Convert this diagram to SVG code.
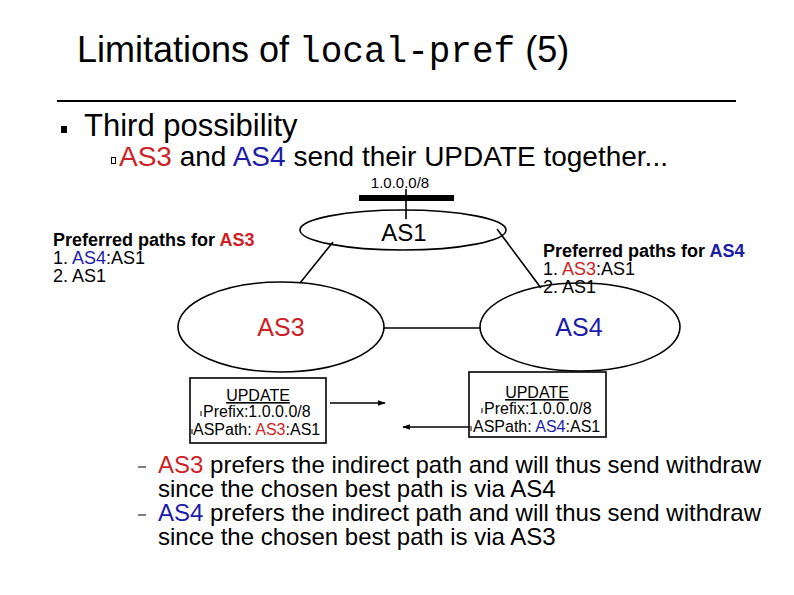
<svg xmlns="http://www.w3.org/2000/svg" width="794" height="595" viewBox="0 0 794 595">
<defs>
<style>
text{font-family:"Liberation Sans",Arial,sans-serif;fill:#000}
.r{fill:#cc1f27}
.b{fill:#1c1ca6}
.mono{font-family:"Liberation Mono","Courier New",monospace}
.shape{fill:none;stroke:#000;stroke-width:1.6}
.con{stroke:#000;stroke-width:1.6;fill:none}
.box{font-size:16px}
.note{font-size:24px}
.pref{font-size:18px}
</style>
<marker id="ah" viewBox="0 0 10 10" refX="9" refY="5" markerWidth="8" markerHeight="8" orient="auto" markerUnits="userSpaceOnUse">
<path d="M0,1.5 L10,5 L0,8.5 z" fill="#000"/>
</marker>
</defs>
<rect width="794" height="595" fill="#fff"/>
<g id="title">
<text x="77" y="62" font-size="36">Limitations of <tspan class="mono">local-pref</tspan> (5)</text>
<line x1="57" y1="101" x2="736" y2="101" stroke="#000" stroke-width="2"/>
</g>
<g id="bullets">
<rect x="61" y="126" width="6" height="7" fill="#000"/>
<text x="84" y="136" font-size="31">Third possibility</text>
<rect x="111.5" y="157.5" width="4" height="6" fill="none" stroke="#000" stroke-width="1"/>
<text x="119" y="166" font-size="28"><tspan class="r">AS3</tspan> and <tspan class="b">AS4</tspan> send their UPDATE together...</text>
</g>
<g id="connectors">
<line class="con" x1="333" y1="242" x2="300" y2="283"/>
<line class="con" x1="497" y1="229" x2="541" y2="288"/>
<line class="con" x1="384" y1="328" x2="480" y2="328" stroke-width="2"/>
<line class="con" x1="406" y1="189" x2="406" y2="219" stroke-width="1.2"/>
<line class="con" x1="330" y1="403" x2="385" y2="403" stroke-width="2" marker-end="url(#ah)"/>
<line class="con" x1="469" y1="427" x2="403" y2="427" stroke-width="2" marker-end="url(#ah)"/>
</g>
<g id="prefix">
<text x="400" y="188" font-size="15" text-anchor="middle">1.0.0.0/8</text>
<rect x="359" y="195" width="95" height="6" fill="#000"/>
</g>
<g id="AS1">
<ellipse class="shape" cx="403" cy="230" rx="103" ry="20"/>
<text x="404" y="241" font-size="24" text-anchor="middle">AS1</text>
</g>
<g id="AS3">
<ellipse class="shape" cx="281" cy="327" rx="103" ry="45"/>
<text x="281" y="336" font-size="25" text-anchor="middle" class="r">AS3</text>
</g>
<g id="AS4">
<ellipse class="shape" cx="580" cy="327" rx="100" ry="44"/>
<text x="579" y="336" font-size="25" text-anchor="middle" class="b">AS4</text>
</g>
<g id="pref3" class="pref">
<text x="53" y="246" font-weight="bold">Preferred paths for <tspan class="r">AS3</tspan></text>
<text x="53" y="264">1. <tspan class="b">AS4</tspan>:AS1</text>
<text x="53" y="282">2. AS1</text>
</g>
<g id="pref4" class="pref">
<text x="543" y="257" font-weight="bold">Preferred paths for <tspan class="b">AS4</tspan></text>
<text x="543" y="275">1. <tspan class="r">AS3</tspan>:AS1</text>
<text x="543" y="293">2. AS1</text>
</g>
<g id="update3" class="box">
<rect class="shape" x="190" y="378" width="136" height="65" stroke-width="1.2"/>
<text x="258" y="401" text-anchor="middle" text-decoration="underline">UPDATE</text>
<line x1="201" y1="411" x2="201" y2="416" stroke="#000" stroke-width="1"/>
<text x="203" y="417">Prefix:1.0.0.0/8</text>
<line x1="192" y1="429" x2="192" y2="434" stroke="#000" stroke-width="1"/>
<text x="193" y="435">ASPath: <tspan class="r">AS3</tspan>:AS1</text>
</g>
<g id="update4" class="box">
<rect class="shape" x="469" y="372" width="137" height="65" stroke-width="1.2"/>
<text x="537" y="398" text-anchor="middle" text-decoration="underline">UPDATE</text>
<line x1="482" y1="408" x2="482" y2="413" stroke="#000" stroke-width="1"/>
<text x="484" y="414">Prefix:1.0.0.0/8</text>
<line x1="471" y1="426" x2="471" y2="431" stroke="#000" stroke-width="1"/>
<text x="473" y="432">ASPath: <tspan class="b">AS4</tspan>:AS1</text>
</g>
<g id="notes" class="note">
<line x1="138" y1="467" x2="146" y2="467" stroke="#000" stroke-width="1"/>
<text x="158" y="473"><tspan class="r">AS3</tspan> prefers the indirect path and will thus send withdraw</text>
<text x="158" y="497">since the chosen best path is via AS4</text>
<line x1="138" y1="515" x2="146" y2="515" stroke="#000" stroke-width="1"/>
<text x="158" y="521"><tspan class="b">AS4</tspan> prefers the indirect path and will thus send withdraw</text>
<text x="158" y="545">since the chosen best path is via AS3</text>
</g>
</svg>
